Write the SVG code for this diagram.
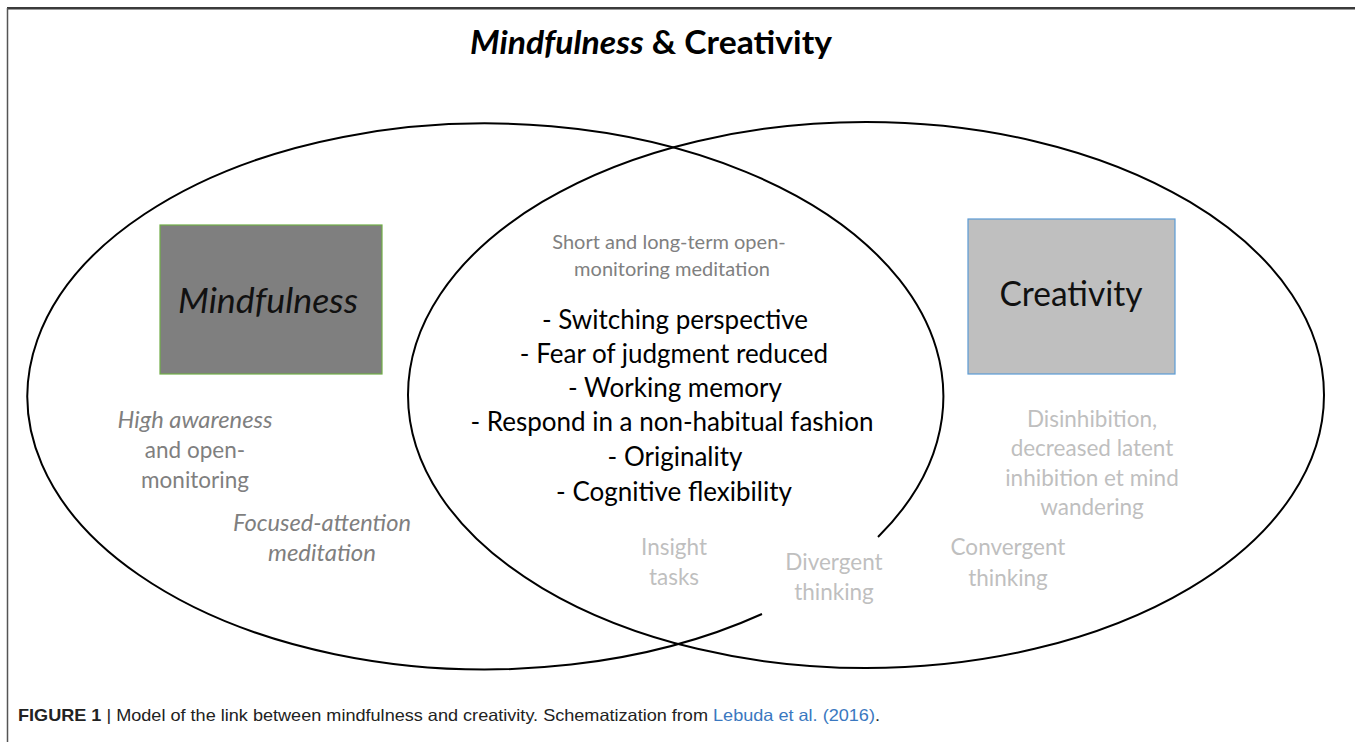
<svg xmlns="http://www.w3.org/2000/svg" width="1355" height="742" viewBox="0 0 1355 742">
  <style>
    .f { font-family: Lato, "Open Sans", "Liberation Sans", sans-serif; }
    .title { font-size: 32px; font-weight: 700; fill: #000; }
    .box-label { font-size: 34px; fill: #111; }
    .item { font-size: 26px; fill: #000; }
    .grey { font-size: 22.5px; fill: #7f7f7f; }
    .lite { font-size: 22.5px; fill: #bfbfbf; }
    .sub { font-size: 20px; fill: #808080; }
    .cap { font-family: "Liberation Sans", Arial, sans-serif; font-size: 16.5px; fill: #222; }
    .ring { fill: none; stroke: #000; stroke-width: 2; }
  </style>
  <rect x="0" y="0" width="1355" height="742" fill="#fff"/>
  <!-- frame -->
  <line x1="7" y1="8" x2="1355" y2="8" stroke="#3a3a3a" stroke-width="2"/>
  <line x1="8" y1="9.5" x2="1355" y2="9.5" stroke="#9a9a9a" stroke-width="1"/>
  <line x1="7.5" y1="8" x2="7.5" y2="742" stroke="#555" stroke-width="1.5"/>

  <g id="title">
    <text class="f title" x="470" y="54" textLength="362" lengthAdjust="spacingAndGlyphs"><tspan font-style="italic">Mindfulness</tspan> &amp; Creativity</text>
  </g>

  <g id="connectors">
    <path class="ring" d="M 762 614 A 458 273 0 1 1 878 537"/>
    <ellipse class="ring" cx="866" cy="395" rx="458" ry="273"/>
  </g>

  <g id="mindfulness">
    <rect x="160" y="225" width="222" height="149" fill="#7f7f7f" stroke="#70ad47" stroke-width="1.2"/>
    <text class="f box-label" x="268" y="313" text-anchor="middle" font-style="italic" textLength="180" lengthAdjust="spacingAndGlyphs">Mindfulness</text>
  </g>

  <g id="creativity">
    <rect x="968" y="219" width="207" height="155" fill="#bfbfbf" stroke="#5b9bd5" stroke-width="1.2"/>
    <text class="f box-label" x="1071" y="306" text-anchor="middle" textLength="143" lengthAdjust="spacingAndGlyphs">Creativity</text>
  </g>

  <g id="overlap">
    <text class="f sub" x="669" y="249" text-anchor="middle">Short and long-term open-</text>
    <text class="f sub" x="672" y="276" text-anchor="middle">monitoring meditation</text>
    <text class="f item" x="675" y="329" text-anchor="middle">- Switching perspective</text>
    <text class="f item" x="674" y="363" text-anchor="middle">- Fear of judgment reduced</text>
    <text class="f item" x="675" y="397" text-anchor="middle">- Working memory</text>
    <text class="f item" x="672" y="431" text-anchor="middle">- Respond in a non-habitual fashion</text>
    <text class="f item" x="675" y="466" text-anchor="middle">- Originality</text>
    <text class="f item" x="674" y="501" text-anchor="middle">- Cognitive flexibility</text>
  </g>

  <g id="mindfulness-labels">
    <text class="f grey" x="195" y="428" text-anchor="middle" font-style="italic" textLength="155" lengthAdjust="spacingAndGlyphs">High awareness</text>
    <text class="f grey" x="195" y="458" text-anchor="middle">and open-</text>
    <text class="f grey" x="195" y="488" text-anchor="middle">monitoring</text>
    <text class="f grey" x="322" y="531" text-anchor="middle" font-style="italic" textLength="178" lengthAdjust="spacingAndGlyphs">Focused-attention</text>
    <text class="f grey" x="322" y="561" text-anchor="middle" font-style="italic" textLength="108" lengthAdjust="spacingAndGlyphs">meditation</text>
  </g>

  <g id="insight">
    <text class="f lite" x="674" y="555" text-anchor="middle">Insight</text>
    <text class="f lite" x="674" y="585" text-anchor="middle">tasks</text>
  </g>

  <g id="divergent">
    <text class="f lite" x="834" y="570" text-anchor="middle">Divergent</text>
    <text class="f lite" x="834" y="600" text-anchor="middle">thinking</text>
  </g>

  <g id="convergent">
    <text class="f lite" x="1008" y="555" text-anchor="middle">Convergent</text>
    <text class="f lite" x="1008" y="586" text-anchor="middle">thinking</text>
  </g>

  <g id="creativity-labels">
    <text class="f lite" x="1092" y="427" text-anchor="middle">Disinhibition,</text>
    <text class="f lite" x="1092" y="456" text-anchor="middle">decreased latent</text>
    <text class="f lite" x="1092" y="486" text-anchor="middle">inhibition et mind</text>
    <text class="f lite" x="1092" y="515" text-anchor="middle">wandering</text>
  </g>

  <g id="caption">
    <text class="cap" x="18" y="721" textLength="862" lengthAdjust="spacingAndGlyphs"><tspan font-weight="700">FIGURE 1</tspan> | Model of the link between mindfulness and creativity. Schematization from <tspan fill="#3a78c0">Lebuda et al. (2016)</tspan>.</text>
  </g>
</svg>
